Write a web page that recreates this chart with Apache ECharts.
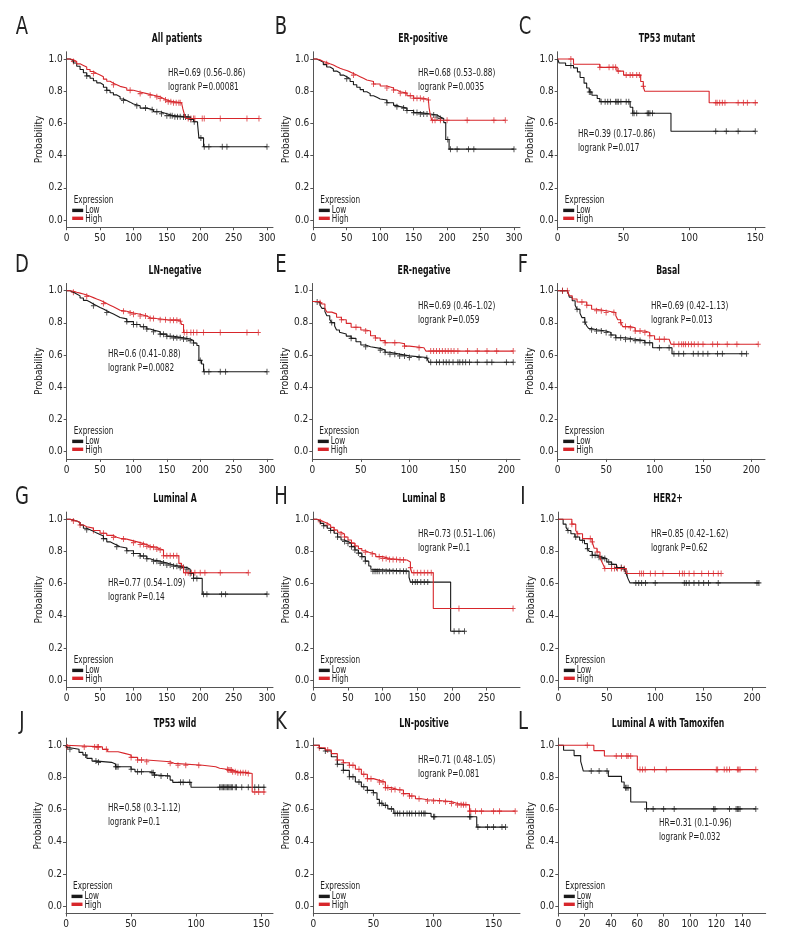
<!DOCTYPE html>
<html>
<head>
<meta charset="utf-8">
<script src="https://cdn.jsdelivr.net/npm/echarts@6/dist/echarts.min.js"></script>
<style>
  html, body { margin: 0; padding: 0; background: #fff; }
  #main { width: 792px; height: 948px; }
</style>
</head>
<body>
<div id="main"></div>
<script>
// survival curves: [time, probability] after each step; censor marks: times
const aLow = [[0,1],[5,0.99],[10,0.975],[15,0.955],[20,0.935],[25,0.915],[30,0.895],[35,0.88],[40,0.865],[45,0.852],[50,0.84],[55,0.825],[60,0.805],[65,0.79],[70,0.777],[75,0.765],[80,0.752],[85,0.742],[90,0.732],[95,0.72],[100,0.71],[110,0.695],[120,0.685],[130,0.672],[140,0.66],[150,0.648],[160,0.642],[175,0.64],[185,0.625],[190,0.61],[196,0.597],[198,0.51],[205,0.455],[300,0.455]];
const aLowCens = [30,60,85,105,118,128,135,142,150,155,158,162,166,170,175,178,182,186,191,201,206,213,233,240,300];
const aHigh = [[0,1],[5,0.995],[10,0.985],[15,0.97],[20,0.96],[25,0.95],[30,0.935],[35,0.922],[40,0.91],[45,0.9],[50,0.89],[55,0.875],[60,0.862],[65,0.85],[70,0.84],[75,0.83],[80,0.82],[90,0.806],[100,0.795],[110,0.785],[120,0.775],[130,0.765],[140,0.755],[145,0.745],[150,0.735],[160,0.728],[172,0.725],[174,0.69],[176,0.66],[178,0.63],[288,0.63]];
const aHighCens = [10,40,70,95,110,125,135,140,148,152,156,160,164,168,170,182,186,190,192,203,206,230,270,288];

const bLow = [[0,1],[5,0.99],[10,0.98],[15,0.965],[20,0.95],[25,0.938],[30,0.925],[35,0.913],[40,0.9],[45,0.89],[50,0.878],[55,0.86],[60,0.84],[65,0.825],[70,0.81],[75,0.797],[80,0.785],[85,0.772],[90,0.762],[95,0.752],[100,0.745],[110,0.728],[120,0.712],[125,0.704],[130,0.695],[140,0.68],[150,0.667],[160,0.658],[175,0.652],[185,0.64],[190,0.63],[195,0.605],[198,0.5],[203,0.44],[300,0.44]];
const bLowCens = [50,110,125,135,140,150,155,160,165,170,180,185,190,201,205,215,232,240,300];
const bHigh = [[0,1],[5,0.995],[10,0.985],[15,0.978],[20,0.97],[25,0.963],[30,0.952],[35,0.943],[40,0.935],[45,0.928],[50,0.92],[55,0.91],[60,0.9],[65,0.89],[70,0.88],[75,0.87],[80,0.86],[90,0.845],[100,0.832],[110,0.82],[120,0.807],[125,0.797],[130,0.788],[140,0.772],[150,0.756],[165,0.75],[172,0.745],[173,0.7],[175,0.65],[177,0.62],[287,0.62]];
const bHighCens = [20,60,90,110,120,130,138,145,150,155,160,165,172,178,182,190,200,230,270,287];

const cLow = [[0,1],[1,0.975],[6,0.96],[12,0.945],[15,0.92],[17,0.885],[20,0.85],[22,0.82],[24,0.795],[26,0.775],[30,0.755],[32,0.735],[55,0.7],[57,0.663],[86,0.551],[150,0.551]];
const cLowCens = [10,24,25,33,36,38,40,44,45,46,48,52,54,57,58,60,68,69,70,72,120,128,137,150];
const cHigh = [[0,1],[12,0.967],[32,0.948],[45,0.925],[50,0.9],[63,0.86],[65,0.83],[66,0.8],[115,0.728],[152,0.728]];
const cHighCens = [10,32,39,42,44,46,52,55,57,60,62,65,120,121,123,125,127,137,141,144,150];

const dLow = [[0,1],[5,0.99],[10,0.98],[15,0.968],[20,0.955],[25,0.94],[30,0.93],[35,0.918],[40,0.907],[45,0.896],[50,0.886],[55,0.875],[60,0.865],[65,0.855],[70,0.845],[75,0.834],[80,0.825],[90,0.808],[100,0.79],[110,0.776],[120,0.762],[125,0.755],[130,0.745],[140,0.73],[150,0.717],[160,0.707],[175,0.7],[185,0.69],[190,0.675],[195,0.66],[198,0.567],[202,0.545],[205,0.497],[300,0.497]];
const dLowCens = [40,60,90,100,105,115,120,130,140,145,150,155,160,165,170,175,180,185,190,200,206,213,230,238,300];
const dHigh = [[0,1],[5,0.997],[10,0.99],[15,0.985],[20,0.98],[25,0.973],[30,0.965],[35,0.957],[40,0.948],[45,0.94],[50,0.931],[55,0.92],[60,0.91],[65,0.9],[70,0.89],[75,0.879],[80,0.872],[90,0.862],[100,0.854],[110,0.843],[120,0.832],[125,0.827],[135,0.82],[150,0.817],[170,0.81],[172,0.79],[175,0.74],[287,0.74]];
const dHighCens = [10,30,55,85,95,100,110,118,125,130,140,148,155,160,165,170,176,180,186,190,195,205,230,270,287];

const eLow = [[0,0.933],[5,0.93],[8,0.91],[10,0.89],[13,0.87],[15,0.844],[18,0.82],[20,0.802],[23,0.78],[25,0.756],[28,0.742],[30,0.731],[35,0.718],[40,0.704],[45,0.683],[50,0.663],[55,0.652],[60,0.642],[70,0.631],[75,0.618],[80,0.606],[90,0.595],[100,0.585],[118,0.58],[120,0.556],[207,0.556]];
const eLowCens = [5,20,40,55,70,75,80,85,90,95,100,110,118,122,128,131,135,138,141,145,150,152,155,158,162,170,180,185,200,207];
const eHigh = [[0,0.933],[8,0.925],[10,0.917],[13,0.89],[15,0.867],[20,0.856],[25,0.835],[30,0.82],[35,0.797],[40,0.773],[50,0.756],[55,0.75],[60,0.72],[65,0.706],[70,0.69],[75,0.677],[90,0.67],[95,0.656],[100,0.646],[115,0.636],[117,0.625],[207,0.625]];
const eHighCens = [8,30,45,55,65,75,85,95,110,122,125,128,131,134,137,140,143,146,150,160,170,180,190,207];

const fLow = [[0,1],[10,0.99],[12,0.96],[15,0.938],[18,0.91],[20,0.885],[23,0.86],[25,0.833],[28,0.805],[30,0.781],[32,0.765],[35,0.757],[40,0.75],[50,0.74],[55,0.725],[60,0.708],[70,0.698],[80,0.69],[90,0.677],[98,0.646],[118,0.608],[195,0.608]];
const fLowCens = [5,20,28,35,40,45,50,55,60,65,70,75,80,85,90,95,105,115,120,125,130,140,145,150,155,165,170,190,195];
const fHigh = [[0,1],[10,1],[12,0.969],[15,0.948],[20,0.93],[30,0.91],[35,0.885],[40,0.875],[50,0.865],[60,0.844],[62,0.82],[65,0.802],[67,0.777],[75,0.77],[80,0.75],[90,0.74],[95,0.72],[100,0.698],[115,0.688],[117,0.667],[207,0.667]];
const fHighCens = [5,10,25,30,40,45,50,58,65,70,75,80,85,90,95,105,110,120,125,128,130,132,135,138,141,145,150,160,165,175,185,207];

const gLow = [[0,1],[5,0.995],[10,0.99],[15,0.98],[20,0.965],[25,0.944],[30,0.935],[35,0.925],[40,0.915],[45,0.905],[50,0.896],[55,0.88],[60,0.86],[65,0.85],[70,0.84],[75,0.83],[80,0.822],[90,0.805],[100,0.788],[110,0.772],[120,0.755],[125,0.747],[130,0.74],[140,0.728],[150,0.716],[160,0.708],[170,0.7],[180,0.69],[185,0.664],[190,0.633],[203,0.535],[300,0.535]];
const gLowCens = [30,55,75,90,100,110,115,120,130,135,140,145,150,155,160,165,170,175,180,185,190,195,205,210,232,238,300];
const gHigh = [[0,1],[5,0.995],[10,0.99],[15,0.98],[20,0.965],[25,0.954],[30,0.945],[40,0.93],[50,0.913],[60,0.9],[70,0.888],[75,0.882],[80,0.877],[90,0.866],[100,0.855],[110,0.843],[120,0.832],[125,0.826],[135,0.815],[140,0.81],[145,0.774],[168,0.726],[172,0.71],[175,0.668],[272,0.668]];
const gHighCens = [10,20,40,55,70,85,100,110,115,120,125,130,135,140,145,150,155,160,165,172,178,182,187,192,200,207,230,272];

const hLow = [[0,1],[5,0.99],[10,0.975],[15,0.96],[20,0.944],[25,0.93],[30,0.913],[35,0.89],[40,0.871],[45,0.862],[50,0.851],[55,0.83],[60,0.809],[65,0.79],[70,0.768],[75,0.74],[80,0.71],[83,0.69],[85,0.678],[135,0.678],[138,0.64],[140,0.61],[198,0.305],[218,0.305]];
const hLowCens = [15,25,35,45,50,55,60,65,70,75,86,89,92,95,100,105,110,115,120,125,130,134,143,147,150,155,160,165,203,210,218];
const hHigh = [[0,1],[5,0.995],[10,0.985],[15,0.975],[20,0.965],[25,0.95],[30,0.934],[35,0.92],[40,0.909],[45,0.89],[50,0.871],[55,0.852],[60,0.834],[65,0.818],[70,0.805],[75,0.795],[80,0.784],[90,0.768],[100,0.757],[110,0.75],[125,0.747],[135,0.735],[140,0.7],[142,0.668],[173,0.446],[288,0.446]];
const hHighCens = [10,20,30,40,45,55,60,75,85,95,100,105,110,115,120,125,130,140,145,150,155,160,165,170,210,288];

const iLow = [[0,1],[5,0.97],[8,0.95],[10,0.93],[13,0.91],[17,0.89],[22,0.87],[27,0.849],[30,0.818],[32,0.8],[35,0.776],[40,0.765],[45,0.756],[50,0.735],[55,0.72],[60,0.7],[68,0.69],[70,0.663],[72,0.63],[74,0.605],[207,0.605]];
const iLowCens = [10,18,25,30,35,38,42,45,48,52,55,60,65,68,71,80,83,86,90,100,130,132,135,140,145,150,155,165,205,207];
const iHigh = [[0,1],[14,0.97],[18,0.93],[20,0.91],[25,0.88],[35,0.86],[37,0.82],[40,0.797],[43,0.76],[45,0.735],[47,0.71],[48,0.694],[70,0.663],[168,0.663]];
const iHighCens = [14,20,33,35,40,48,55,58,61,65,68,84,86,88,95,100,108,125,128,130,135,140,148,155,160,165,168];

const jLow = [[0,1],[1,0.985],[3,0.975],[10,0.956],[13,0.94],[16,0.919],[20,0.902],[24,0.894],[35,0.884],[38,0.867],[50,0.851],[53,0.836],[65,0.83],[68,0.815],[70,0.809],[80,0.784],[82,0.77],[96,0.739],[153,0.739]];
const jLowCens = [3,15,23,25,38,39,40,50,55,58,66,67,68,73,78,88,90,95,118,119,120,121,122,123,124,125,126,127,128,130,131,135,140,145,148,152];
const jHigh = [[0,1],[1,0.99],[28,0.975],[32,0.96],[40,0.95],[45,0.94],[50,0.925],[55,0.909],[62,0.898],[80,0.888],[83,0.876],[105,0.867],[115,0.857],[118,0.85],[125,0.846],[128,0.835],[132,0.83],[140,0.825],[143,0.71],[153,0.71]];
const jHighCens = [1,14,22,24,25,31,50,55,58,62,80,86,92,102,124,125,126,127,128,130,132,134,136,138,140,145,148,152];

const kLow = [[0,1],[5,0.98],[10,0.965],[15,0.929],[20,0.882],[25,0.844],[30,0.805],[35,0.772],[40,0.743],[45,0.72],[50,0.705],[53,0.664],[55,0.64],[58,0.627],[62,0.605],[67,0.577],[98,0.556],[136,0.492],[160,0.492]];
const kLowCens = [10,20,25,30,33,38,42,45,50,55,57,60,65,68,70,72,75,78,80,82,85,88,90,92,93,100,101,130,131,137,145,150,157,160];
const kHigh = [[0,1],[5,0.985],[10,0.971],[15,0.948],[20,0.909],[25,0.892],[30,0.876],[35,0.851],[40,0.82],[45,0.793],[50,0.782],[55,0.772],[60,0.737],[65,0.725],[70,0.722],[75,0.7],[80,0.685],[85,0.668],[90,0.662],[95,0.654],[110,0.65],[115,0.639],[120,0.63],[130,0.591],[168,0.591]];
const kHighCens = [5,12,20,25,30,33,38,42,45,48,55,58,60,62,65,68,72,75,80,82,88,95,100,105,110,115,120,123,125,127,130,131,135,140,150,155,168];

const lLow = [[0,1],[4,0.969],[12,0.936],[17,0.9],[18,0.87],[19,0.84],[38,0.807],[48,0.772],[50,0.737],[55,0.648],[67,0.605],[150,0.605]];
const lLowCens = [25,31,37,51,52,53,67,72,80,88,118,119,130,135,136,137,138,150];
const lHigh = [[0,1],[27,0.967],[35,0.934],[60,0.849],[150,0.849]];
const lHighCens = [22,44,48,52,53,55,62,64,66,73,82,120,121,126,128,130,136,137,138,150];

// tick labels
const probTicks = [0, 0.2, 0.4, 0.6, 0.8, 1.0];
const ticks300 = [0, 50, 100, 150, 200, 250, 300];
const ticks250 = [0, 50, 100, 150, 200, 250];
const ticks200 = [0, 50, 100, 150, 200];
const ticks150 = [0, 50, 100, 150];
const ticks140 = [0, 20, 40, 60, 80, 100, 120, 140];

const FONT = "'Liberation Sans Narrow','DejaVu Sans Condensed',sans-serif";
const LOW_C = '#1a1a1a';
const HIGH_C = '#d7262b';
const AX = '#555';
const TXT = '#222';
const NARROW = 0.74; // squeeze for the condensed look of the original lettering

// y of prob 1.0 / 0.0 in each row, plus letter and title heights
const rows = [
  { y1: 59, y0: 220, letterY: 27, titleY: 39 },
  { y1: 290.7, y0: 451, letterY: 265, titleY: 271 },
  { y1: 519.3, y0: 680, letterY: 497, titleY: 499 },
  { y1: 745.3, y0: 906, letterY: 722, titleY: 724 }
];

const panels = [
  { letter: 'A', title: 'All patients', hr: 'HR=0.69 (0.56–0.86)', p: 'logrank P=0.00081', low: aLow, lowCens: aLowCens, high: aHigh, highCens: aHighCens, ticks: ticks300,
    row: 0, left: 66.7, end: 273, xmax: 309, letterX: 22, titleX: 177, hrX: 168, hrY: 73 },
  { letter: 'B', title: 'ER-positive', hr: 'HR=0.68 (0.53–0.88)', p: 'logrank P=0.0035', low: bLow, lowCens: bLowCens, high: bHigh, highCens: bHighCens, ticks: ticks300,
    row: 0, left: 313.3, end: 520, xmax: 309, letterX: 281, titleX: 423, hrX: 418, hrY: 73 },
  { letter: 'C', title: 'TP53 mutant', hr: 'HR=0.39 (0.17–0.86)', p: 'logrank P=0.017', low: cLow, lowCens: cLowCens, high: cHigh, highCens: cHighCens, ticks: ticks150,
    row: 0, left: 557.7, end: 765, xmax: 157.4, letterX: 525, titleX: 667, hrX: 578, hrY: 134 },
  { letter: 'D', title: 'LN-negative', hr: 'HR=0.6 (0.41–0.88)', p: 'logrank P=0.0082', low: dLow, lowCens: dLowCens, high: dHigh, highCens: dHighCens, ticks: ticks300,
    row: 1, left: 66.7, end: 273, xmax: 309, letterX: 22, titleX: 175, hrX: 108, hrY: 354 },
  { letter: 'E', title: 'ER-negative', hr: 'HR=0.69 (0.46–1.02)', p: 'logrank P=0.059', low: eLow, lowCens: eLowCens, high: eHigh, highCens: eHighCens, ticks: ticks200,
    row: 1, left: 312.3, end: 520, xmax: 214, letterX: 281, titleX: 424, hrX: 418, hrY: 306 },
  { letter: 'F', title: 'Basal', hr: 'HR=0.69 (0.42–1.13)', p: 'logrank P=0.013', low: fLow, lowCens: fLowCens, high: fHigh, highCens: fHighCens, ticks: ticks200,
    row: 1, left: 557.7, end: 765, xmax: 214, letterX: 523, titleX: 668, hrX: 651, hrY: 306 },
  { letter: 'G', title: 'Luminal A', hr: 'HR=0.77 (0.54–1.09)', p: 'logrank P=0.14', low: gLow, lowCens: gLowCens, high: gHigh, highCens: gHighCens, ticks: ticks300,
    row: 2, left: 66.7, end: 273, xmax: 309, letterX: 22, titleX: 175, hrX: 108, hrY: 583 },
  { letter: 'H', title: 'Luminal B', hr: 'HR=0.73 (0.51–1.06)', p: 'logrank P=0.1', low: hLow, lowCens: hLowCens, high: hHigh, highCens: hHighCens, ticks: ticks250,
    row: 2, left: 313.3, end: 520, xmax: 298, letterX: 281, titleX: 424, hrX: 418, hrY: 534 },
  { letter: 'I', title: 'HER2+', hr: 'HR=0.85 (0.42–1.62)', p: 'logrank P=0.62', low: iLow, lowCens: iLowCens, high: iHigh, highCens: iHighCens, ticks: ticks200,
    row: 2, left: 558.3, end: 765.7, xmax: 214, letterX: 523, titleX: 668, hrX: 651, hrY: 534 },
  { letter: 'J', title: 'TP53 wild', hr: 'HR=0.58 (0.3–1.12)', p: 'logrank P=0.1', low: jLow, lowCens: jLowCens, high: jHigh, highCens: jHighCens, ticks: ticks150,
    row: 3, left: 66, end: 273, xmax: 159, letterX: 22, titleX: 175, hrX: 108, hrY: 808 },
  { letter: 'K', title: 'LN-positive', hr: 'HR=0.71 (0.48–1.05)', p: 'logrank P=0.081', low: kLow, lowCens: kLowCens, high: kHigh, highCens: kHighCens, ticks: ticks150,
    row: 3, left: 313.3, end: 520, xmax: 172, letterX: 281, titleX: 424, hrX: 418, hrY: 760 },
  { letter: 'L', title: 'Luminal A with Tamoxifen', hr: 'HR=0.31 (0.1–0.96)', p: 'logrank P=0.032', low: lLow, lowCens: lLowCens, high: lHigh, highCens: lHighCens, ticks: ticks140,
    row: 3, left: 558.3, end: 765.7, xmax: 157.5, letterX: 523, titleX: 668, hrX: 659, hrY: 823 }
];

const YMIN = -0.045, YMAX = 1.045, PX_PER_1 = 161;
const plus = 'path://M5,0V10M0,5H10';

// probability of a step curve at time t
function survAt(curve, t) {
  let s = curve[0][1];
  for (const pt of curve) {
    if (pt[0] <= t) s = pt[1]; else break;
  }
  return s;
}

function txt(x, y, text, size, opts, sx) {
  return {
    type: 'text', x: x, y: y, scaleX: sx || NARROW, silent: true,
    style: Object.assign({ text: text, fontSize: size, fontFamily: FONT, fill: TXT, align: 'left', verticalAlign: 'middle' }, opts || {})
  };
}

const grids = [], xAxes = [], yAxes = [], series = [], graphics = [];

panels.forEach((p, i) => {
  const r = rows[p.row];
  grids.push({
    left: p.left, width: p.end - p.left,
    top: r.y1 - (YMAX - 1) * PX_PER_1,
    height: (YMAX - YMIN) * PX_PER_1
  });
  xAxes.push({
    gridIndex: i, type: 'value', min: 0, max: p.xmax,
    axisLine: { onZero: false, lineStyle: { color: AX, width: 1 } },
    axisTick: { customValues: p.ticks, length: 3, lineStyle: { color: AX } },
    axisLabel: { customValues: p.ticks, fontSize: 10, color: TXT, fontFamily: FONT, margin: 6 },
    splitLine: { show: false }
  });
  yAxes.push({
    gridIndex: i, type: 'value', min: YMIN, max: YMAX,
    name: 'Probability', nameLocation: 'middle', nameGap: 21, nameRotate: 90,
    nameTextStyle: { fontSize: 10, color: TXT, fontFamily: FONT },
    axisLine: { show: true, onZero: false, lineStyle: { color: AX, width: 1 } },
    axisTick: { show: true, customValues: probTicks, length: 3, lineStyle: { color: AX } },
    axisLabel: { customValues: probTicks, fontSize: 10, color: TXT, fontFamily: FONT, margin: 4,
      formatter: v => v.toFixed(1) },
    splitLine: { show: false }
  });

  [[p.low, p.lowCens, LOW_C], [p.high, p.highCens, HIGH_C]].forEach(([curve, cens, col]) => {
    series.push({
      type: 'line', xAxisIndex: i, yAxisIndex: i, data: curve, step: 'end',
      showSymbol: false, silent: true, lineStyle: { color: col, width: 1.1 }
    });
    series.push({
      type: 'scatter', xAxisIndex: i, yAxisIndex: i, silent: true,
      data: cens.map(t => [t, survAt(curve, t)]),
      symbol: plus, symbolSize: [5, 6],
      itemStyle: { color: col, borderColor: col, borderWidth: 1 }
    });
  });

  // letter, title, stats
  graphics.push(txt(p.letterX, r.letterY, p.letter, 25, { align: 'center' }, 0.8));
  graphics.push(txt(p.titleX, r.titleY, p.title, 12, { align: 'center', fontWeight: 'bold', fill: '#111' }, 0.72));
  graphics.push(txt(p.hrX, p.hrY, p.hr, 11));
  graphics.push(txt(p.hrX, p.hrY + 14.5, p.p, 11));

  // legend block
  const L = p.left, y0 = r.y0;
  graphics.push(txt(L + 7, y0 - 19.5, 'Expression', 11));
  graphics.push({ type: 'rect', silent: true, shape: { x: L + 5.5, y: y0 - 11.3, width: 11, height: 3.4 }, style: { fill: LOW_C } });
  graphics.push(txt(L + 18.5, y0 - 10, 'Low', 11));
  graphics.push({ type: 'rect', silent: true, shape: { x: L + 5.5, y: y0 - 3.4, width: 11, height: 3.4 }, style: { fill: HIGH_C } });
  graphics.push(txt(L + 18.5, y0 - 0.5, 'High', 11));
});

const myChart = echarts.init(document.getElementById('main'));
myChart.setOption({
  animation: false,
  backgroundColor: '#fff',
  grid: grids,
  xAxis: xAxes,
  yAxis: yAxes,
  series: series,
  graphic: { elements: graphics }
});
</script>
</body>
</html>
